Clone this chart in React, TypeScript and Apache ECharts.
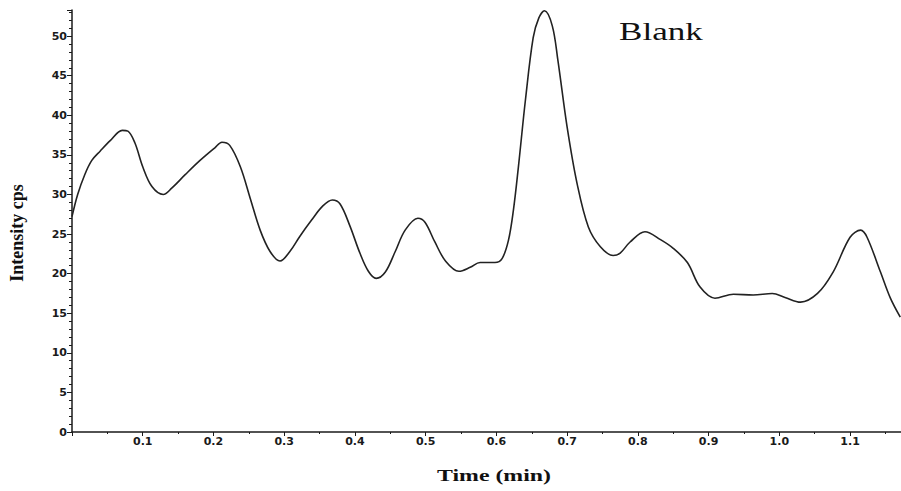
import React, { useEffect, useRef } from "react";
import * as echarts from "echarts";

const timeMin: number[] = [
  0.0, 0.008, 0.018, 0.028, 0.04, 0.054, 0.071, 0.079, 0.089, 0.1, 0.113, 0.129,
  0.141, 0.16, 0.181, 0.202, 0.212, 0.223, 0.238, 0.252, 0.266, 0.28, 0.294,
  0.308, 0.322, 0.339, 0.354, 0.368, 0.379, 0.393, 0.407, 0.419, 0.43, 0.443,
  0.457, 0.471, 0.489, 0.499, 0.513, 0.528, 0.547, 0.563, 0.577, 0.598, 0.608,
  0.617, 0.624, 0.631, 0.641, 0.652, 0.66, 0.668, 0.679, 0.687, 0.7, 0.714,
  0.73, 0.747, 0.765, 0.775, 0.789, 0.81, 0.832, 0.85, 0.87, 0.888, 0.909,
  0.935, 0.963, 0.99, 1.008, 1.03, 1.054, 1.076, 1.1, 1.115, 1.124, 1.143,
  1.157, 1.171,
];

const intensityCps: number[] = [
  27.2, 30.0, 32.5, 34.3, 35.5, 36.8, 38.1, 38.0, 36.5, 33.5, 31.0, 30.0,
  30.8, 32.5, 34.3, 35.9, 36.6, 36.2, 33.5, 29.5, 25.5, 22.8, 21.6,
  22.8, 24.7, 26.8, 28.5, 29.3, 28.8, 26.0, 22.6, 20.3, 19.4, 20.2,
  22.8, 25.5, 27.0, 26.5, 24.0, 21.6, 20.3, 20.8, 21.4, 21.4, 21.9,
  24.2, 28.0, 33.4, 41.9, 49.8, 52.3, 53.2, 51.3, 46.9, 38.5, 31.4,
  25.9, 23.4, 22.3, 22.6, 24.0, 25.3, 24.3, 23.2, 21.4, 18.3, 16.9,
  17.4, 17.3, 17.5, 17.0, 16.4, 17.5, 20.2, 24.6, 25.5, 24.6, 20.2,
  16.9, 14.5,
];

const xTickStep = 0.1;
const yTickStep = 5;
const xMax = 1.172;
const yMax = 53.3;
const chartTitle = "Blank";
const xName = "Time (min)";
const yName = "Intensity cps";

export default function App() {
  const ref = useRef<HTMLDivElement>(null);
  useEffect(() => {
    if (!ref.current) return;
    const chart = echarts.init(ref.current, undefined, { renderer: "svg" });
    const ink = "#1a1a1a";
    chart.setOption({
      animation: false,
      backgroundColor: "#ffffff",
      grid: { left: 72, right: 0, top: 10, bottom: 59, containLabel: false },
      xAxis: {
        type: "value",
        min: 0,
        max: xMax,
        interval: xTickStep,
        axisLine: { show: true, onZero: false, lineStyle: { color: ink, width: 1.5 } },
        axisTick: { show: true, length: 4, lineStyle: { color: ink, width: 1 } },
        minorTick: { show: true, splitNumber: 2, length: 2, lineStyle: { color: ink, width: 1 } },
        splitLine: { show: false },
        axisLabel: {
          show: true,
          margin: 4,
          color: ink,
          fontFamily: "DejaVu Sans",
          fontWeight: "bold",
          fontSize: 11,
          showMaxLabel: false,
          formatter: (v: number) => (v < 0.01 ? "" : v.toFixed(1)),
        },
      },
      yAxis: {
        type: "value",
        min: 0,
        max: yMax,
        interval: yTickStep,
        axisLine: { show: true, lineStyle: { color: ink, width: 1.5 } },
        axisTick: { show: true, length: 5, lineStyle: { color: ink, width: 1 } },
        minorTick: { show: true, splitNumber: 5, length: 3, lineStyle: { color: ink, width: 1 } },
        splitLine: { show: false },
        axisLabel: {
          show: true,
          margin: 5,
          color: ink,
          fontFamily: "DejaVu Sans",
          fontWeight: "bold",
          fontSize: 11,
          showMaxLabel: false,
        },
      },
      series: [
        {
          type: "line",
          data: timeMin.map((t, i) => [t, intensityCps[i]]),
          showSymbol: false,
          smooth: 0.35,
          lineStyle: { color: "#222222", width: 1.6 },
          clip: true,
        },
      ],
      graphic: [
        {
          type: "text",
          x: 661,
          y: 31,
          scaleX: 1.35,
          style: {
            text: chartTitle,
            font: "26px 'Liberation Serif'",
            fill: "#111",
            align: "center",
            verticalAlign: "middle",
          },
        },
        {
          type: "text",
          x: 494,
          y: 475,
          scaleX: 1.4,
          style: {
            text: xName,
            font: "bold 17px 'Liberation Serif'",
            fill: "#111",
            align: "center",
            verticalAlign: "middle",
          },
        },
        {
          type: "text",
          x: 17,
          y: 233,
          rotation: Math.PI / 2,
          style: {
            text: yName,
            font: "bold 18px 'Liberation Serif'",
            fill: "#111",
            align: "center",
            verticalAlign: "middle",
          },
        },
      ],
    });
    return () => chart.dispose();
  }, []);
  return (
    <div
      ref={ref}
      style={{ position: "fixed", left: 0, top: 0, width: 901, height: 491, background: "#fff" }}
    />
  );
}
